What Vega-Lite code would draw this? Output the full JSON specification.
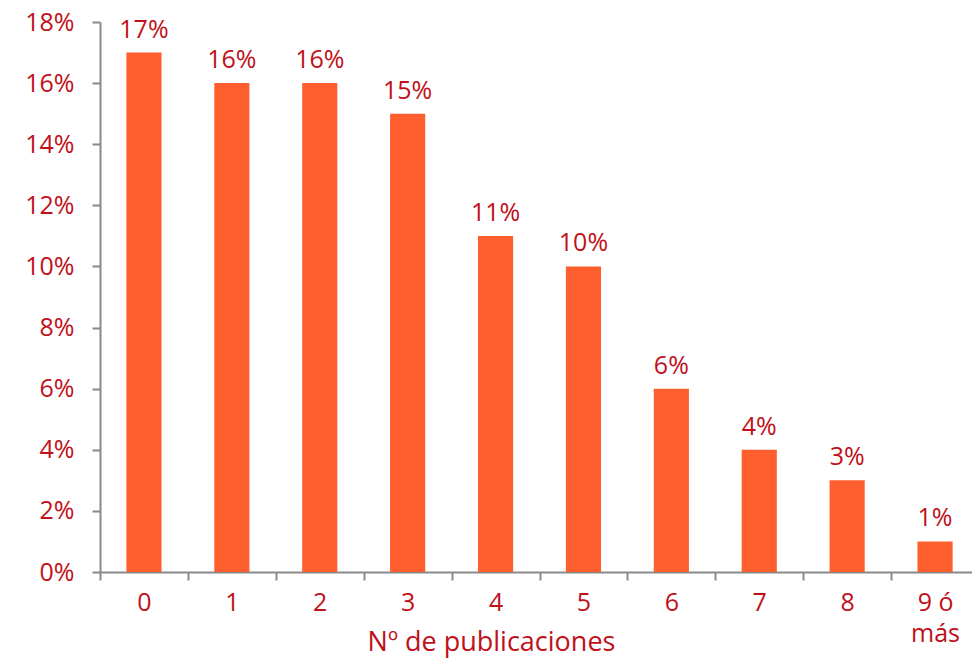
{
  "$schema": "https://vega.github.io/schema/vega-lite/v6.json",
  "autosize": "none",
  "width": 879,
  "height": 550,
  "padding": {"left": 100, "top": 22, "right": 0, "bottom": 86},
  "background": "white",
  "config": {"view": {"stroke": null}, "font": "Open Sans"},
  "data": {"values": [
    {"cat": "0", "v": 0.17},
    {"cat": "1", "v": 0.16},
    {"cat": "2", "v": 0.16},
    {"cat": "3", "v": 0.15},
    {"cat": "4", "v": 0.11},
    {"cat": "5", "v": 0.10},
    {"cat": "6", "v": 0.06},
    {"cat": "7", "v": 0.04},
    {"cat": "8", "v": 0.03},
    {"cat": "9 ó más", "v": 0.01}
  ]},
  "encoding": {
    "x": {
      "field": "cat", "type": "nominal", "sort": null,
      "scale": {"paddingInner": 0, "paddingOuter": 0},
      "axis": {
        "title": "Nº de publicaciones",
        "titleFont": "Open Sans", "titleFontSize": 27, "titleFontWeight": "normal",
        "titleColor": "#C0101A", "titleBaseline": "middle", "titleY": 70, "titleX": 391, "titleAnchor": null, "titleAlign": "center",
        "labelAngle": 0, "labelFontSize": 25, "labelColor": "#C0101A",
        "labelPadding": 10, "labelLineHeight": 31, "labelBaseline": "top",
        "labelExpr": "datum.label == '9 ó más' ? ['9 ó', 'más'] : datum.label",
        "tickBand": "extent", "tickSize": 8, "tickColor": "#898989", "tickWidth": 2,
        "domainColor": "#898989", "domainWidth": 2, "grid": false
      }
    },
    "y": {
      "field": "v", "type": "quantitative",
      "scale": {"domain": [0, 0.18], "nice": false},
      "axis": {
        "title": null, "format": ".0%",
        "values": [0, 0.02, 0.04, 0.06, 0.08, 0.1, 0.12, 0.14, 0.16, 0.18],
        "labelFontSize": 25, "labelColor": "#C0101A", "labelPadding": 18,
        "tickSize": 8, "tickColor": "#898989", "tickWidth": 2,
        "domainColor": "#898989", "domainWidth": 2, "grid": false
      }
    }
  },
  "layer": [
    {"mark": {"type": "bar", "color": "#FF5F2E", "width": {"band": 0.4}}},
    {
      "mark": {"type": "text", "baseline": "bottom", "dy": -10, "fontSize": 25, "color": "#C0101A", "font": "Open Sans"},
      "encoding": {"text": {"field": "v", "type": "quantitative", "format": ".0%"}}
    }
  ]
}
